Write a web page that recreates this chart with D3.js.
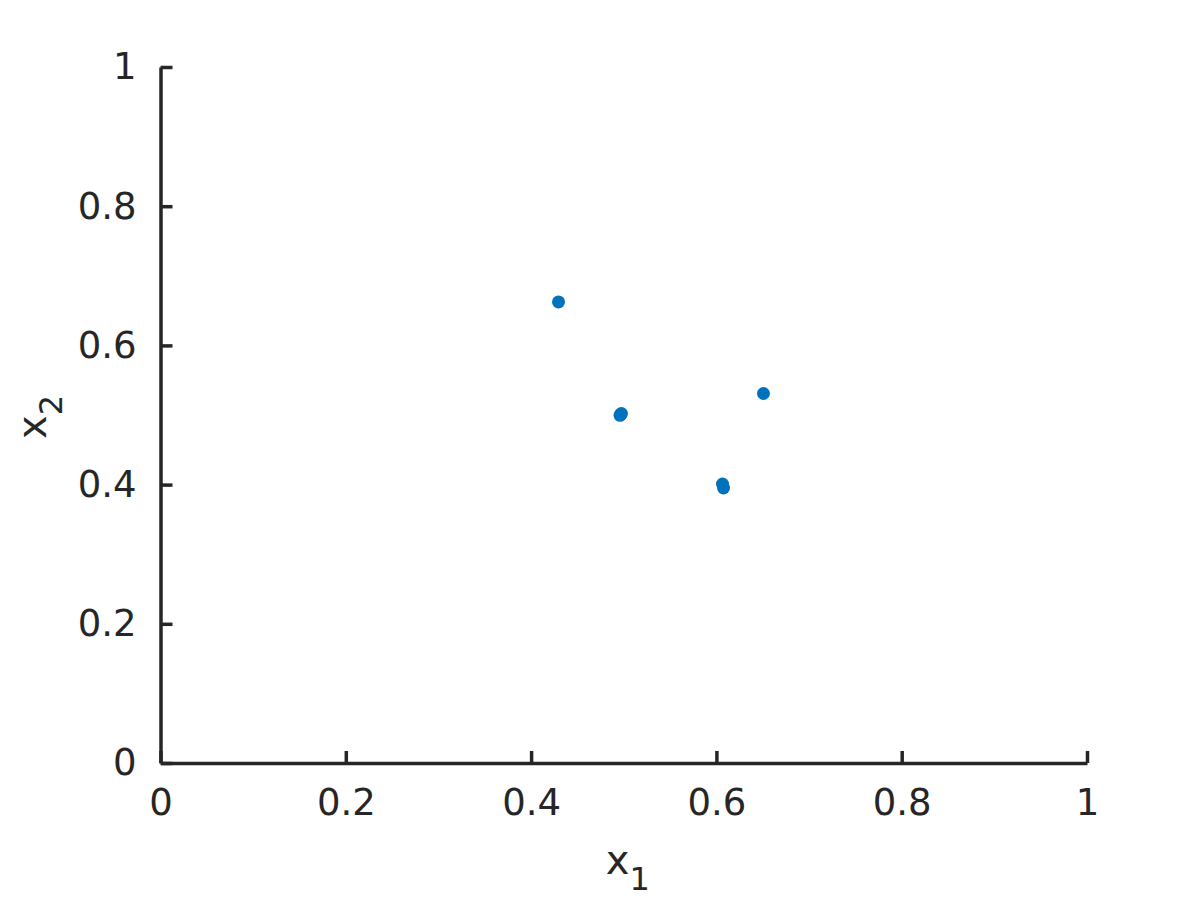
<!DOCTYPE html>
<html>
<head>
<meta charset="utf-8">
<script src="https://cdn.jsdelivr.net/npm/d3@7"></script>
<style>
  body { margin: 0; background: #fff; }
  text { font-family: "DejaVu Sans", sans-serif; fill: #262626; }
</style>
</head>
<body>
<div class="chart"></div>
<script>
// scatter of x1 vs x2
var x1 = [0.4296, 0.4960, 0.4975, 0.4968, 0.6066, 0.6077, 0.6508];
var x2 = [0.6624, 0.4995, 0.5020, 0.5010, 0.4009, 0.3951, 0.5309];
var tickValues = [0, 0.2, 0.4, 0.6, 0.8, 1];
var tickLabels = ["0", "0.2", "0.4", "0.6", "0.8", "1"];

var svgWidth = 1200;
var svgHeight = 900;
var margin = { top: 67, right: 113, bottom: 137, left: 160.5 };
var width = 1087 - margin.left;
var height = 763 - margin.top;

var svg = d3.select(".chart")
  .append("svg")
  .attr("width", svgWidth)
  .attr("height", svgHeight);

var chartGroup = svg.append("g")
  .attr("transform", `translate(${margin.left}, ${margin.top})`);

var xScale = d3.scaleLinear().domain([0, 1]).range([0, width]);
var yScale = d3.scaleLinear().domain([0, 1]).range([height, 0]);

var bottomAxis = d3.axisBottom(xScale)
  .tickValues(tickValues)
  .tickFormat((d, i) => tickLabels[i])
  .tickSizeInner(-12)
  .tickSizeOuter(0)
  .tickPadding(26);

var leftAxis = d3.axisLeft(yScale)
  .tickValues(tickValues)
  .tickFormat((d, i) => tickLabels[i])
  .tickSizeInner(-12)
  .tickSizeOuter(0)
  .tickPadding(24);

var xAxisG = chartGroup.append("g")
  .attr("transform", `translate(0, ${height})`)
  .call(bottomAxis);

var yAxisG = chartGroup.append("g")
  .call(leftAxis);

[xAxisG, yAxisG].forEach(function (g) {
  g.select(".domain").attr("stroke", "#262626").attr("stroke-width", 3.5);
  g.selectAll(".tick line").attr("stroke", "#262626").attr("stroke-width", 3.5);
  g.selectAll(".tick text")
    .attr("font-size", 37)
    .attr("font-family", "DejaVu Sans")
    .attr("fill", "#262626");
});

chartGroup.selectAll("circle")
  .data(x1)
  .enter()
  .append("circle")
  .attr("cx", d => xScale(d))
  .attr("cy", (d, i) => yScale(x2[i]))
  .attr("r", 6.5)
  .attr("fill", "#0072BD");

// axis labels
var xLabel = chartGroup.append("text")
  .attr("x", width / 2 + 4)
  .attr("y", height + 111)
  .attr("font-size", 40)
  .attr("text-anchor", "middle");
xLabel.append("tspan").text("x");
xLabel.append("tspan").attr("font-size", 32).attr("dy", 16).text("1");

var yLabel = chartGroup.append("text")
  .attr("transform", `translate(${-115}, ${height / 2 + 2}) rotate(-90)`)
  .attr("font-size", 40)
  .attr("text-anchor", "middle");
yLabel.append("tspan").text("x");
yLabel.append("tspan").attr("font-size", 32).attr("dy", 16).text("2");
</script>
</body>
</html>
